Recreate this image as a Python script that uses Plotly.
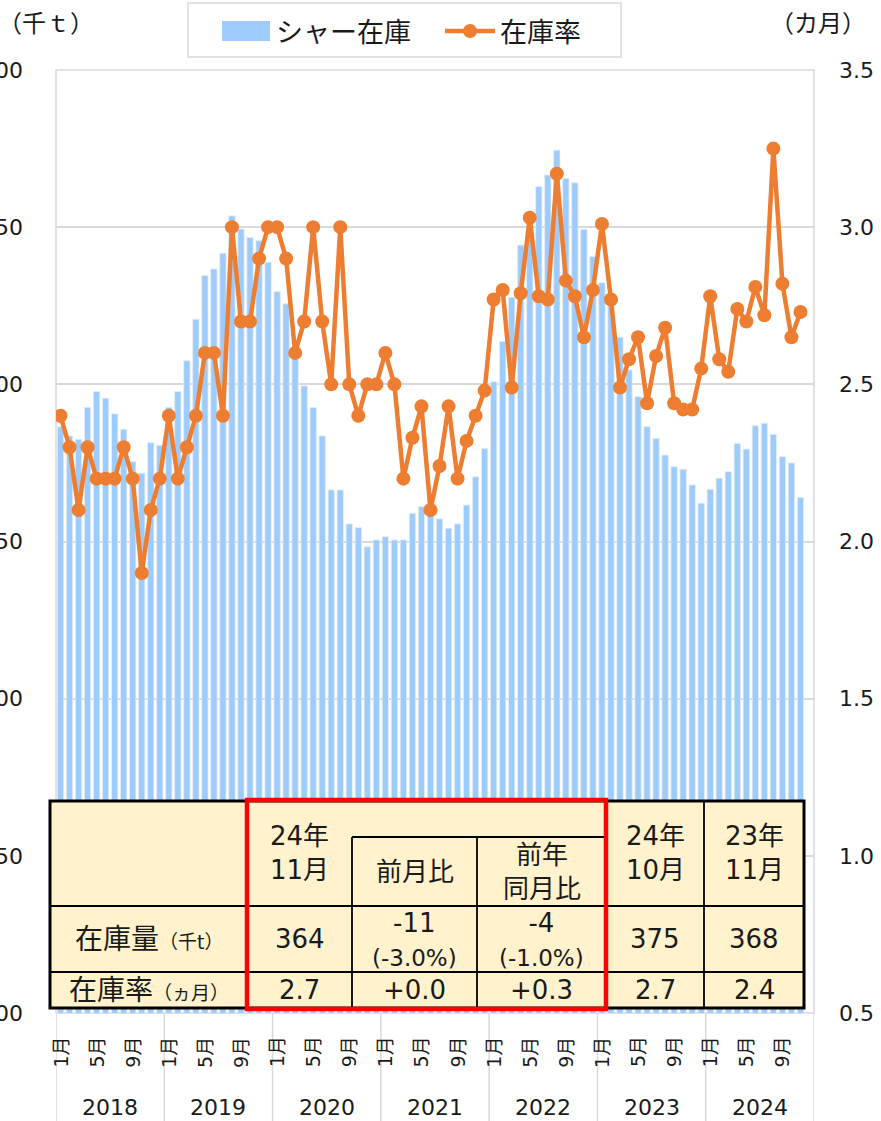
import plotly.graph_objects as go

# ---- data -------------------------------------------------------------
YEARS = [2018, 2019, 2020, 2021, 2022, 2023, 2024]
MONTH_NUMS = list(range(1, 13))
MONTHS = [f"{y}年{m}月" for y in YEARS for m in MONTH_NUMS]  # 84 slots (Dec 2024 empty)
LABEL_MONTHS = [1, 5, 9]

# シャー在庫 (千t)
stock = [
    386.5, 383.6, 382.5, 392.7, 397.7, 395.6, 390.6, 385.7, 375.4, 371.7, 381.4, 380.6,  # 2018
    392.7, 397.7, 407.5, 420.7, 434.6, 436.7, 441.7, 453.6, 449.4, 446.7, 445.7, 438.8,  # 2019
    429.5, 425.6, 410.0, 399.5, 392.6, 383.6, 366.4, 366.4, 355.6, 354.4, 348.3, 350.5,  # 2020
    351.5, 350.5, 350.5, 359.0, 361.1, 360.0, 357.2, 354.2, 355.6, 361.6, 370.6, 379.6,  # 2021
    400.8, 413.6, 427.7, 444.3, 454.0, 462.9, 466.6, 474.5, 465.5, 464.1, 449.3, 440.6,  # 2022
    432.3, 425.0, 415.0, 404.6, 396.1, 386.5, 382.8, 377.5, 373.8, 373.0, 368.0, 362.2,  # 2023
    366.6, 370.1, 372.2, 381.2, 379.4, 386.8, 387.6, 384.1, 377.0, 375.0, 364.0,         # 2024
]

# 在庫率 (カ月)
rate = [
    2.4, 2.3, 2.1, 2.3, 2.2, 2.2, 2.2, 2.3, 2.2, 1.9, 2.1, 2.2,
    2.4, 2.2, 2.3, 2.4, 2.6, 2.6, 2.4, 3.0, 2.7, 2.7, 2.9, 3.0,
    3.0, 2.9, 2.6, 2.7, 3.0, 2.7, 2.5, 3.0, 2.5, 2.4, 2.5, 2.5,
    2.6, 2.5, 2.2, 2.33, 2.43, 2.1, 2.24, 2.43, 2.2, 2.32, 2.40, 2.48,
    2.77, 2.80, 2.49, 2.79, 3.03, 2.78, 2.77, 3.17, 2.83, 2.78, 2.65, 2.80,
    3.01, 2.77, 2.49, 2.58, 2.65, 2.44, 2.59, 2.68, 2.44, 2.42, 2.42, 2.55,
    2.78, 2.58, 2.54, 2.74, 2.70, 2.81, 2.72, 3.25, 2.82, 2.65, 2.73,
]

TABLE_HEAD = ["", "24年<br>11月", "前月比", "前年<br>同月比", "24年<br>10月", "23年<br>11月"]
TABLE_STOCK = ["364", "-11<br><span style='font-size:23px'>(-3.0%)</span>",
               "-4<br><span style='font-size:23px'>(-1.0%)</span>", "375", "368"]
TABLE_RATE = ["2.7", "+0.0", "+0.3", "2.7", "2.4"]

# ---- style --------------------------------------------------------------
BAR_COLOR = "#9DCBFB"
LINE_COLOR = "#ED7D31"
GRID = "#D9D9D9"
TXT = "#1A1A1A"
TABLE_BG = "#FFF2CC"
FONT = "DejaVu Sans, Noto Sans CJK JP"
JP_FONT = "Noto Sans CJK JP"

W, H = 881, 1121
PL, PR, PT, PB = 56, 814, 70, 1013


def px(x):
    return (x - PL) / (PR - PL)


def py(y):
    return (PB - y) / (PB - PT)


fig = go.Figure()
fig.add_trace(go.Bar(
    x=MONTHS[:len(stock)], y=stock, name="シャー在庫",
    marker=dict(color=BAR_COLOR, line=dict(color="#E4ECF4", width=0.8)),
    yaxis="y", showlegend=False,
))
fig.add_trace(go.Scatter(
    x=MONTHS[:len(rate)], y=rate, name="在庫率", mode="lines+markers",
    line=dict(color=LINE_COLOR, width=4.5),
    marker=dict(color=LINE_COLOR, size=14),
    yaxis="y2", showlegend=False,
))

shapes = []
annotations = []

# plot frame
shapes.append(dict(type="rect", xref="paper", yref="paper", x0=0, x1=1, y0=0, y1=1,
                   line=dict(color=GRID, width=1.5), layer="below"))

# x axis: year separators and labels
for k, yr in enumerate(YEARS):
    shapes.append(dict(type="line", xref="x", yref="paper",
                       x0=12 * k - 0.5, x1=12 * k - 0.5, y0=0, y1=py(H),
                       line=dict(color=GRID, width=1.5)))
    annotations.append(dict(x=12 * k + 5.5, y=py(1107), xref="x", yref="paper",
                            xanchor="center", yanchor="middle",
                            text=str(yr), showarrow=False,
                            font=dict(size=22, color=TXT, family=FONT)))
    for m in LABEL_MONTHS:
        annotations.append(dict(x=f"{yr}年{m}月", y=py(1052), xref="x", yref="paper",
                                xanchor="center", yanchor="middle",
                                text=f"{m}月", textangle=-90, showarrow=False,
                                font=dict(size=19, color=TXT, family=FONT)))
shapes.append(dict(type="line", xref="x", yref="paper",
                   x0=len(MONTHS) - 0.5, x1=len(MONTHS) - 0.5, y0=0, y1=py(H),
                   line=dict(color=GRID, width=1.5)))

# axis unit labels
annotations.append(dict(x=px(-4), y=py(21), xref="paper", yref="paper",
                        xanchor="left", yanchor="middle",
                        text="（千ｔ）", showarrow=False,
                        font=dict(size=24, color=TXT, family=JP_FONT)))
annotations.append(dict(x=px(768), y=py(21), xref="paper", yref="paper",
                        xanchor="left", yanchor="middle",
                        text="（カ月）", showarrow=False,
                        font=dict(size=24, color=TXT, family=JP_FONT)))

# ---- legend (drawn by hand to get Excel's wide swatch) ------------------
shapes.append(dict(type="rect", xref="paper", yref="paper",
                   x0=px(188), x1=px(621), y0=py(3), y1=py(57),
                   fillcolor="white", line=dict(color=GRID, width=1.5)))
shapes.append(dict(type="rect", xref="paper", yref="paper",
                   x0=px(222), x1=px(270), y0=py(21), y1=py(41),
                   fillcolor=BAR_COLOR, line=dict(width=0)))
shapes.append(dict(type="line", xref="paper", yref="paper",
                   x0=px(445), x1=px(495), y0=py(31), y1=py(31),
                   line=dict(color=LINE_COLOR, width=4.5)))
shapes.append(dict(type="circle", xref="paper", yref="paper",
                   x0=px(463), x1=px(477), y0=py(24), y1=py(38),
                   fillcolor=LINE_COLOR, line=dict(width=0)))
annotations.append(dict(x=px(274), y=py(31), xref="paper", yref="paper",
                        xanchor="left", yanchor="middle", text="シャー在庫", showarrow=False,
                        font=dict(size=27, color=TXT, family=JP_FONT)))
annotations.append(dict(x=px(498), y=py(31), xref="paper", yref="paper",
                        xanchor="left", yanchor="middle", text="在庫率", showarrow=False,
                        font=dict(size=27, color=TXT, family=JP_FONT)))

# ---- summary table overlay ---------------------------------------------
COLS = [50, 247, 352, 477, 606, 704, 804]
ROWS = [801, 906, 972, 1008]
SUB = 837


def line(x0, y0, x1, y1, width=1.8, color="black"):
    shapes.append(dict(type="line", xref="paper", yref="paper",
                       x0=px(x0), x1=px(x1), y0=py(y0), y1=py(y1),
                       line=dict(color=color, width=width)))


shapes.append(dict(type="rect", xref="paper", yref="paper",
                   x0=px(COLS[0]), x1=px(COLS[-1]), y0=py(ROWS[0]), y1=py(ROWS[-1]),
                   fillcolor=TABLE_BG, line=dict(color="black", width=3)))
line(COLS[0], ROWS[1], COLS[-1], ROWS[1])
line(COLS[0], ROWS[2], COLS[-1], ROWS[2])
line(COLS[2], SUB, COLS[4], SUB)
line(COLS[1], ROWS[0], COLS[1], ROWS[-1])
line(COLS[2], SUB, COLS[2], ROWS[-1])
line(COLS[3], SUB, COLS[3], ROWS[-1])
line(COLS[4], ROWS[0], COLS[4], ROWS[-1])
line(COLS[5], ROWS[0], COLS[5], ROWS[-1])
# red highlight box
shapes.append(dict(type="rect", xref="paper", yref="paper",
                   x0=px(COLS[1]), x1=px(COLS[4]), y0=py(ROWS[0] - 1), y1=py(ROWS[-1] + 1),
                   line=dict(color="#FF0000", width=4.5)))


def cell(text, c, y0, y1, size=26):
    annotations.append(dict(x=px((COLS[c] + COLS[c + 1]) / 2), y=py((y0 + y1) / 2),
                            xref="paper", yref="paper", xanchor="center", yanchor="middle",
                            text=text, showarrow=False,
                            font=dict(size=size, color=TXT, family=FONT)))


for c, t in enumerate(TABLE_HEAD):
    if not t:
        continue
    if c in (2, 3):
        cell(t, c, SUB, ROWS[1])
    else:
        cell(t, c, ROWS[0], ROWS[1])
cell("在庫量<span style='font-size:19px'>（千t）</span>", 0, ROWS[1], ROWS[2], size=28)
cell("在庫率<span style='font-size:19px'>（ヵ月）</span>", 0, ROWS[2], ROWS[3], size=28)
for c, t in enumerate(TABLE_STOCK):
    cell(t, c + 1, ROWS[1], ROWS[2])
for c, t in enumerate(TABLE_RATE):
    cell(t, c + 1, ROWS[2], ROWS[3])

fig.update_layout(
    template="none",
    width=W, height=H,
    margin=dict(l=PL, r=W - PR, t=PT, b=H - PB, autoexpand=False),
    paper_bgcolor="white", plot_bgcolor="white",
    font=dict(family=FONT, color=TXT),
    bargap=0.3,
    showlegend=False,
    xaxis=dict(type="category", categoryorder="array", categoryarray=MONTHS,
               range=[-0.5, len(MONTHS) - 0.5], showticklabels=False,
               showgrid=False, zeroline=False, showline=False, ticks=""),
    yaxis=dict(range=[200, 500], dtick=50, showgrid=True, gridcolor=GRID, gridwidth=1.5,
               zeroline=False, showline=False, ticks="", automargin=False,
               tickfont=dict(size=22, color=TXT), ticklabelstandoff=32),
    yaxis2=dict(range=[0.5, 3.5], dtick=0.5, tickformat=".1f", overlaying="y", side="right",
                showgrid=False, zeroline=False, showline=False, ticks="", automargin=False,
                tickfont=dict(size=22, color=TXT), ticklabelstandoff=24),
    shapes=shapes,
    annotations=annotations,
)

# the page body has a default 8px margin; drop it so the figure sits at the top-left
fig.write_html("out.html", config=dict(displayModeBar=False),
               post_script="document.body.style.margin='0';")
